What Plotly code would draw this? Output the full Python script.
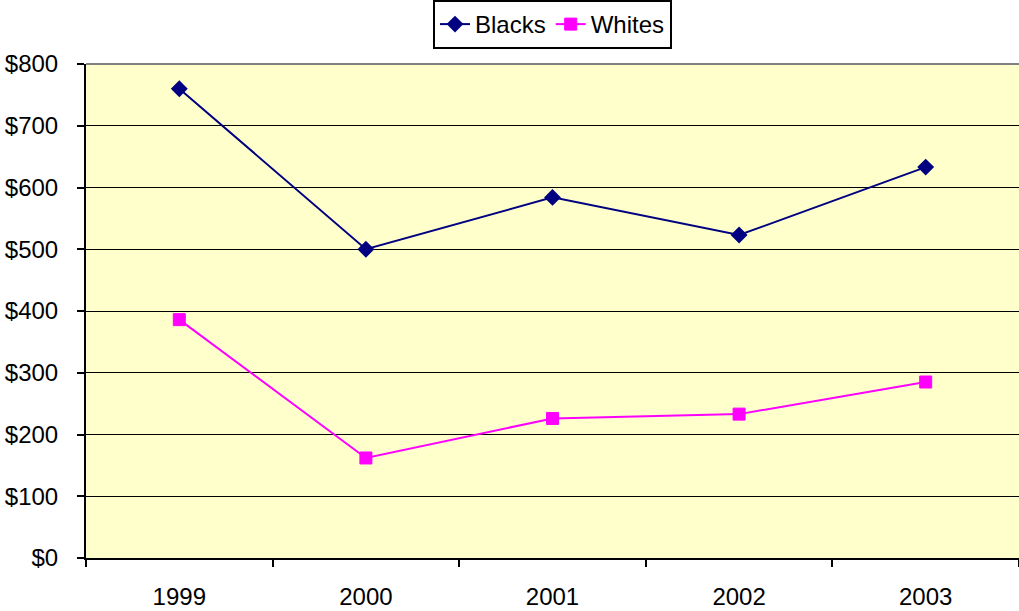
import plotly.graph_objects as go

years = ["1999", "2000", "2001", "2002", "2003"]
blacks = [760, 500, 584, 523, 633]
whites = [386, 162, 226, 233, 285]
y_ticks = [0, 100, 200, 300, 400, 500, 600, 700, 800]
y_labels = ["$0", "$100", "$200", "$300", "$400", "$500", "$600", "$700", "$800"]

fig = go.Figure()
fig.add_trace(go.Scatter(
    x=years, y=blacks, name="Blacks", mode="lines+markers",
    line=dict(color="#000080", width=2),
    marker=dict(symbol="diamond", size=13, color="#000080"),
))
fig.add_trace(go.Scatter(
    x=years, y=whites, name="Whites", mode="lines+markers",
    line=dict(color="#FF00FF", width=2),
    marker=dict(symbol="square", size=12, color="#FF00FF",
                line=dict(color="#FF00FF", width=1)),
))

fig.update_layout(
    width=1019, height=611,
    margin=dict(l=86, r=0, t=64, b=53),
    paper_bgcolor="white",
    plot_bgcolor="#FFFFCC",
    font=dict(family="Liberation Sans, Arial, sans-serif", size=24, color="black"),
    showlegend=True,
    legend=dict(
        orientation="h", x=0.5, xanchor="center", xref="paper",
        y=1.0, yanchor="top", yref="container",
        bgcolor="white", bordercolor="black", borderwidth=2,
        font=dict(size=24), tracegroupgap=0,
    ),
)

fig.update_xaxes(
    type="category", range=[-0.5, 4.5],
    tickson="boundaries", ticks="outside", ticklen=7, tickwidth=2, tickcolor="black",
    showline=True, linecolor="black", linewidth=2,
    showgrid=False, zeroline=False,
    tickfont=dict(size=24), ticklabelstandoff=16,
)
fig.update_yaxes(
    range=[0, 800], tickvals=y_ticks, ticktext=y_labels,
    ticks="outside", ticklen=7, tickwidth=2, tickcolor="black",
    showline=True, linecolor="black", linewidth=2,
    showgrid=True, gridcolor="black", gridwidth=1,
    zeroline=False, tickfont=dict(size=24), ticklabelstandoff=14,
)
# gray plot-area top border
fig.add_shape(type="line", xref="paper", yref="paper", x0=0, x1=1, y0=1, y1=1,
              line=dict(color="#808080", width=2), layer="above")

fig.write_html("out.html")
